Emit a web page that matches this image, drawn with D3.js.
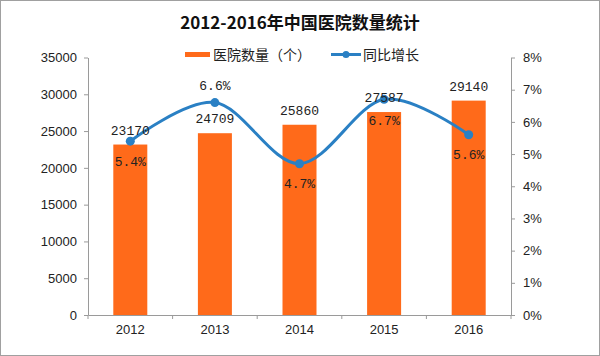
<!DOCTYPE html>
<html><head><meta charset="utf-8">
<script src="https://cdn.jsdelivr.net/npm/d3@7"></script>
<style>body{margin:0;background:#fff}svg{display:block}</style>
</head><body>
<svg id="c" width="600" height="356"></svg>
<script>
const title = "2012-2016年中国医院数量统计";
const years = ["2012","2013","2014","2015","2016"];
const hospitals = [23170, 24709, 25860, 27587, 29140];
const growth = [5.4, 6.6, 4.7, 6.7, 5.6];
const growthLabels = ["5.4%","6.6%","4.7%","6.7%","5.6%"];
const leftTicks = [0,5000,10000,15000,20000,25000,30000,35000];
const rightTicks = [0,1,2,3,4,5,6,7,8];
const seriesNames = ["医院数量（个）","同比增长"];

const svg = d3.select("#c");
const W = 600, H = 356;
const m = {l:88, r:511, t:57.5, b:315};
const orange = "#ff6a1a", blue = "#2a80c4", axisC = "#9a9a9a";
const numFont = "Arial, 'Liberation Sans', sans-serif";
const monoFont = "'Liberation Mono', 'DejaVu Sans Mono', monospace";
const cjk = "'Noto Sans CJK SC', sans-serif";

svg.append("rect").attr("x",0.5).attr("y",0.5).attr("width",W-1).attr("height",H-1)
  .attr("fill","#fff").attr("stroke","#a0a0a0");

const x = d3.scaleBand().domain(years).range([m.l, m.r]).paddingInner(0).paddingOuter(0);
const yL = d3.scaleLinear().domain([0,35000]).range([m.b, m.t]);
const yR = d3.scaleLinear().domain([0,8]).range([m.b, m.t]);

// title
svg.append("text").attr("x",300).attr("y",29).attr("text-anchor","middle")
  .attr("font-family",cjk).attr("font-weight","bold").attr("font-size",17).attr("fill","#111").text(title);

// left axis
const gL = svg.append("g").attr("transform",`translate(${m.l},0)`)
  .call(d3.axisLeft(yL).tickValues(leftTicks).tickSize(4).tickSizeOuter(0).tickFormat(d3.format("d")).tickPadding(7));
const gR = svg.append("g").attr("transform",`translate(${m.r},0)`)
  .call(d3.axisRight(yR).tickValues(rightTicks).tickSize(4).tickSizeOuter(0).tickFormat(d=>d+"%").tickPadding(8));
// x axis with boundary ticks
const gX = svg.append("g").attr("transform",`translate(0,${m.b})`)
  .call(d3.axisBottom(x).tickSize(0).tickPadding(10));
gX.selectAll(".tickb").data(years.concat(["end"])).enter().append("line")
  .attr("x1",(d,i)=> i<years.length ? x(d) : m.r).attr("x2",(d,i)=> i<years.length ? x(d) : m.r)
  .attr("y1",0).attr("y2",4).attr("stroke",axisC);
[gL,gR,gX].forEach(g=>{
  g.selectAll("path,line").attr("stroke",axisC);
  g.selectAll("text").attr("font-family",numFont).attr("font-size",13).attr("fill","#222");
});

// bars
const bw = 34;
svg.append("g").selectAll("rect").data(hospitals).enter().append("rect")
  .attr("x",(d,i)=>x(years[i])+x.bandwidth()/2-bw/2).attr("width",bw)
  .attr("y",d=>yL(d)).attr("height",d=>m.b-yL(d)).attr("fill",orange);

// line
const cx = i => x(years[i])+x.bandwidth()/2;
const line = d3.line().x((d,i)=>cx(i)).y(d=>yR(d)).curve(d3.curveCardinal.tension(0));
svg.append("path").datum(growth).attr("d",line).attr("fill","none").attr("stroke",blue).attr("stroke-width",3);
svg.append("g").selectAll("circle").data(growth).enter().append("circle")
  .attr("cx",(d,i)=>cx(i)).attr("cy",d=>yR(d)).attr("r",4.5).attr("fill",blue);

// value labels
svg.append("g").selectAll("text").data(hospitals).enter().append("text")
  .attr("x",(d,i)=>cx(i)).attr("y",d=>yL(d)-14.5).attr("dy","0.35em").attr("text-anchor","middle")
  .attr("font-family",monoFont).attr("font-size",13).attr("fill","#222").text(d=>d);
const pOff = [20,-17.5,20,21,20];
svg.append("g").selectAll("text").data(growth).enter().append("text")
  .attr("x",(d,i)=>cx(i)).attr("y",(d,i)=>yR(d)+pOff[i]).attr("dy","0.35em").attr("text-anchor","middle")
  .attr("font-family",monoFont).attr("font-size",13).attr("fill","#222").text((d,i)=>growthLabels[i]);

// legend
const lg = svg.append("g");
lg.append("rect").attr("x",185).attr("y",52).attr("width",25).attr("height",5).attr("fill",orange);
lg.append("text").attr("x",213).attr("y",55).attr("dy","0.35em").attr("font-family",cjk).attr("font-size",14).attr("fill","#222").text(seriesNames[0]);
lg.append("line").attr("x1",331).attr("x2",361).attr("y1",54.5).attr("y2",54.5).attr("stroke",blue).attr("stroke-width",3);
lg.append("circle").attr("cx",346).attr("cy",54.5).attr("r",3.5).attr("fill",blue);
lg.append("text").attr("x",363).attr("y",55).attr("dy","0.35em").attr("font-family",cjk).attr("font-size",14).attr("fill","#222").text(seriesNames[1]);
</script>
</body></html>
